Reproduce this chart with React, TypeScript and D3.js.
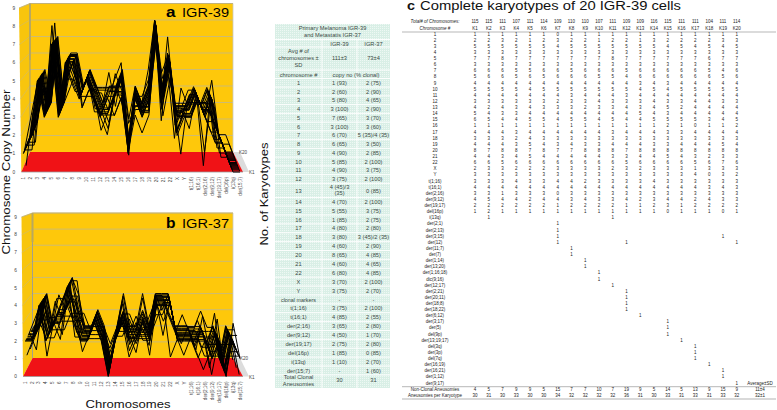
import React from "react";
import * as d3 from "d3";

const chromosomes = ["1","2","3","4","5","6","7","8","9","10","11","12","13","14","15","16","17","18","19","20","21","22","X","Y","t(1;16)","t(16;1)","der(2;16)","der(9;12)","der(19;17)","del(16p)","i(13q)","der(15;7)"];
const karyotypes = ["K1","K2","K3","K4","K5","K6","K7","K8","K9","K10","K11","K12","K13","K14","K15","K16","K17","K18","K19","K20"];
const yTicks = [0,1,2,3,4,5,6,7,8,9];

const igr39Rows: number[][] = [
[1,1,1,1,1,1,0,1,1,1,1,1,1,1,1,1,1,1,1,1],
[2,2,3,2,1,2,3,2,2,1,2,2,1,3,2,2,2,2,3,3],
[5,5,5,5,5,5,4,5,5,5,5,5,5,5,4,5,4,5,4,5],
[3,3,3,3,3,3,3,3,3,3,3,3,3,3,3,3,3,3,3,3],
[7,7,8,7,7,7,7,7,7,7,8,7,7,7,7,7,7,6,7,7],
[3,3,3,3,3,3,3,3,3,3,3,3,3,3,3,3,3,3,3,3],
[6,6,6,5,5,6,6,5,6,6,6,5,6,6,6,6,6,5,4,6],
[5,6,6,5,6,5,6,6,6,5,5,4,6,6,6,6,6,6,5,6],
[4,4,4,4,4,4,4,4,4,4,4,4,3,4,3,4,4,4,4,4],
[5,5,5,5,4,5,5,5,5,5,5,5,4,5,4,5,5,5,5,5],
[4,4,4,4,4,4,4,3,4,4,4,3,4,4,4,4,4,4,4,4],
[3,3,3,3,3,3,2,3,3,4,3,3,3,4,3,3,4,4,3,3],
[4,2,4,3,4,3,3,3,2,3,3,4,3,4,5,2,4,4,4,4],
[5,4,3,3,4,4,4,4,4,4,4,4,5,4,3,4,4,4,4,4],
[6,5,4,4,5,5,4,5,5,4,5,4,4,5,5,5,5,3,4,5],
[1,1,1,1,1,1,1,1,1,1,1,1,1,1,2,1,0,1,1,2],
[4,4,4,3,4,4,4,4,4,4,3,4,4,4,3,3,4,4,4,4],
[3,3,3,2,4,3,3,3,3,3,3,3,3,3,3,3,3,3,3,3],
[4,4,4,3,5,4,3,4,3,3,4,4,4,3,3,4,4,4,5,4],
[8,7,8,8,7,8,7,7,8,8,8,7,8,8,8,8,8,8,8,8],
[4,4,3,4,5,4,4,4,4,4,3,3,4,4,5,4,3,2,3,3],
[6,6,5,6,6,6,6,6,6,6,6,5,6,6,6,6,5,6,7,6],
[2,3,3,2,2,2,3,3,3,3,2,3,2,3,3,3,1,3,3,3],
[3,3,3,3,3,3,3,3,3,3,3,3,3,3,3,3,4,0,3,2],
[3,3,3,4,3,3,4,4,2,3,3,3,3,4,3,3,3,3,3,3],
[4,4,4,4,4,4,4,4,4,4,4,4,4,4,4,4,4,3,4,3],
[3,3,1,3,3,3,0,3,3,3,3,3,3,3,3,3,3,3,3,3],
[4,5,4,4,2,4,4,3,4,3,3,4,2,3,4,4,2,4,3,3],
[2,2,2,2,2,2,1,2,2,2,2,1,1,2,3,1,2,2,2,2],
[1,2,1,1,1,1,1,1,1,1,1,1,1,1,0,1,1,1,0,1],
[0,1,0,0,0,0,0,0,0,0,1,0,0,0,0,0,0,0,0,0],
[0,0,0,0,0,0,0,0,0,0,0,0,0,0,0,0,0,0,0,0],
];

// Each row: one chromosome, copy number in K1..K20 (IGR-37, estimated from panel b)
const igr37Rows: number[][] = [
[2,2,2,2,1,2,2,2,2,2,2,1,2,2,2,2,2,2,2,2],
[2,2,2,2,2,2,2,3,2,2,1,2,2,2,2,2,2,2,2,2],
[4,4,3,4,4,4,3,4,4,3,4,4,4,3,4,4,3,4,4,4],
[2,2,2,1,2,2,2,2,3,2,2,2,2,2,2,2,2,2,2,2],
[3,3,3,3,2,3,3,4,3,3,3,4,3,3,2,3,3,4,3,3],
[3,3,2,3,3,4,3,3,2,3,3,4,3,3,2,3,4,3,4,3],
[5,4,5,3,4,5,4,5,5,4,3,5,4,5,3,4,5,4,5,5],
[3,3,4,3,3,2,4,3,3,4,3,2,3,5,3,4,3,3,4,3],
[2,2,2,2,3,2,2,2,1,2,2,2,2,2,3,2,2,2,2,2],
[2,2,2,2,2,2,2,2,2,2,2,2,2,2,2,2,2,2,2,2],
[3,3,3,2,3,3,3,3,2,3,3,3,3,2,3,3,3,3,2,3],
[2,2,2,2,2,2,2,2,2,2,2,2,2,2,2,2,2,2,2,2],
[0,0,0,0,1,0,0,0,0,0,0,0,1,0,0,0,0,1,0,0],
[2,2,2,2,2,2,2,2,2,2,2,2,2,2,2,2,2,2,2,2],
[3,3,3,4,3,3,2,3,4,3,3,3,2,3,3,4,3,3,2,4],
[2,2,1,2,2,2,3,2,2,1,2,2,2,3,2,2,1,2,2,2],
[2,3,2,2,2,2,2,1,2,2,3,2,2,2,2,2,2,1,2,2],
[3,2,3,2,3,3,2,3,2,3,2,2,4,3,2,2,3,2,3,4],
[2,2,2,2,1,2,2,2,2,2,3,2,2,2,2,1,2,2,2,2],
[4,4,4,4,4,3,4,4,4,4,4,4,3,4,4,4,4,4,4,4],
[4,4,4,3,4,4,4,2,4,4,4,4,3,4,4,4,4,4,3,4],
[4,4,1,4,4,4,3,4,4,4,4,3,4,4,4,4,3,4,4,4],
[2,2,2,2,2,2,2,2,2,2,2,2,2,2,2,2,2,2,2,2],
[2,2,2,2,1,2,2,2,2,2,2,2,3,2,2,2,2,1,2,2],
[2,2,2,2,2,2,2,2,2,2,2,2,2,2,2,2,2,2,2,2],
[2,1,2,2,3,2,2,1,2,2,1,2,2,2,1,2,1,2,2,1],
[2,2,2,1,2,2,2,0,2,2,3,2,2,1,2,2,2,3,2,2],
[1,1,0,1,1,2,1,1,1,0,1,1,2,1,1,1,1,2,1,1],
[2,2,2,1,2,2,3,2,1,2,2,2,2,2,3,2,1,2,2,2],
[0,0,0,1,0,0,0,0,0,1,0,0,0,0,0,0,1,0,0,0],
[3,2,2,1,2,2,2,2,1,2,2,2,2,2,2,2,1,2,2,2],
[1,1,0,1,1,1,1,2,1,0,1,1,1,1,2,1,1,0,1,1],
];

// Table c
const tableTotals = [115,115,111,107,111,114,109,110,110,107,111,109,109,116,115,111,111,104,111,114];
const nonClonal = [4,5,7,9,9,5,15,7,7,10,7,19,9,5,14,5,13,9,15,9];
const perKaryotype = [30,31,30,33,30,30,34,32,32,32,32,36,31,30,33,31,33,31,33,32];
const markerRows: [string, number[]][] = [
["der(2;1)",[7]],["der(2;13)",[7]],["der(3;15)",[7,19]],["der(12)",[7,12,20]],["der(11;7)",[8]],["der(7)",[8]],["der(1;14)",[9]],["der(13;20)",[9]],
["der(1;16;18)",[10]],["dic(9;16)",[10]],["der(12;17)",[11]],["der(2;21)",[12]],["der(20;11)",[12]],["der(18;8)",[12]],["der(18;22)",[12]],["der(6;12)",[13]],
["der(3;17)",[15]],["der(5)",[15]],["del(9p)",[15]],["der(13;19;17)",[16]],["del(3q)",[17]],["der(3p)",[17]],["del(7q)",[17]],["der(16;19)",[18]],["der(16;21)",[19]],["der(1;12)",[19]],["der(9;17)",[20]],
];

// Middle table
const midHead = ["IGR-39","IGR-37"];
const midChrom = ["1","2","3","4","5","6","7","8","9","10","11","12"];
const midIgr39 = ["1 (93)","2 (60)","5 (80)","3 (100)","7 (65)","3 (100)","6 (70)","6 (65)","4 (90)","5 (85)","4 (90)","3 (75)"];
const midIgr37 = ["2 (75)","2 (90)","4 (65)","2 (90)","3 (70)","3 (60)","5 (35)/4 (35)","3 (50)","2 (85)","2 (100)","3 (75)","2 (100)"];
const midChromB = ["14","15","16","17","18","19","20","21","22","X","Y","clonal markers","t(1;16)","t(16;1)","der(2;16)","der(9;12)","der(19;17)","del(16p)","i(13q)","der(15;7)"];
const midIgr39B = ["4 (70)","5 (55)","1 (85)","4 (80)","3 (80)","4 (60)","8 (65)","4 (60)","6 (80)","3 (70)","3 (75)","-","3 (75)","4 (85)","3 (65)","4 (50)","2 (75)","1 (85)","1 (10)","-"];
const midIgr37B = ["2 (100)","3 (75)","2 (75)","2 (80)","3 (45)/2 (35)","2 (90)","4 (85)","4 (65)","4 (85)","2 (100)","2 (70)","-","2 (100)","2 (55)","2 (80)","1 (70)","2 (80)","0 (85)","2 (70)","1 (60)"];

const FONT = "'Liberation Sans', Arial, sans-serif";
const YELLOW = "#fec80b";
const WALL = "#f8c50d";
const RED = "#f01216";
const GRID = "#cdbb72";

type Geo = { fx0:number; fx1:number; bx0:number; bx1:number; fy0:number; fy9:number; by0:number; by9:number; wallX:number; barEnd:number; topL:number; k20x:number; k1x:number };

function Panel({ rows, g, letter, name, titleY }: { rows:number[][]; g:Geo; letter:string; name:string; titleY:number }) {
  const front = d3.scalePoint<string>().domain(chromosomes).range([g.fx0,g.fx1]);
  const back = d3.scalePoint<string>().domain(chromosomes).range([g.bx0,g.bx1]);
  const yF = d3.scaleLinear().domain([0,9]).range([g.fy0,g.fy9]);
  const yB = d3.scaleLinear().domain([0,9]).range([g.by0,g.by9]);
  const depth = d3.scaleLinear().domain([0,karyotypes.length-1]).range([0,1]);
  const line = d3.line<[number,number]>().x(d=>d[0]).y(d=>d[1]).curve(d3.curveLinear);
  const series = karyotypes.map((_,k)=>{
    const t = depth(k);
    return chromosomes.map((c,i)=>[
      (front(c) as number)*(1-t)+(back(c) as number)*t,
      yF(rows[i][k])*(1-t)+yB(rows[i][k])*t,
    ] as [number,number]);
  });
  return (
    <g>
      <polygon points={`${g.wallX},${g.by9} ${g.bx1+1},${g.by9} ${g.bx1+1},${g.by0} ${g.wallX},${g.by0}`} fill={YELLOW}/>
      <polygon points={`${g.topL},${g.fy9} ${g.wallX},${g.by9} ${g.wallX},${g.by0} ${g.fx0-2},${g.fy0}`} fill={WALL}/>
      <polygon points={`${g.bx1+1},${g.by0} ${g.fx1+3},${g.fy0} ${g.fx1+9},${g.fy0} ${g.bx1+8},${g.by0}`} fill="#dcdcdc"/>
      <polygon points={`${g.wallX},${g.by0} ${g.bx1+1},${g.by0} ${g.fx1+3},${g.fy0} ${g.fx0-2},${g.fy0}`} fill={RED}/>
      {yTicks.slice(1).map(v=>(
        <g key={v}>
          <line x1={g.wallX} x2={g.bx1+1} y1={yB(v)} y2={yB(v)} stroke={GRID} strokeWidth={1}/>
          <line x1={g.topL+(g.fx0-2-g.topL)*(1-v/9)} x2={g.wallX} y1={yF(v)} y2={yB(v)} stroke={GRID} strokeWidth={0.6}/>
        </g>
      ))}
      <line x1={g.bx1+1} x2={g.bx1+1} y1={g.by9} y2={g.by0} stroke="#c8c8c0" strokeWidth={0.8}/>
      <line x1={g.wallX} x2={g.bx1+1} y1={g.by9} y2={g.by9} stroke="#b9ad7c" strokeWidth={0.6}/>
      <line x1={g.topL} x2={g.wallX} y1={g.fy9} y2={g.by9} stroke="#b9ad7c" strokeWidth={0.6}/>
      <line x1={g.wallX} x2={g.wallX} y1={g.by9} y2={g.barEnd} stroke="#b8a860" strokeWidth={2}/>
      <line x1={g.wallX} x2={g.wallX} y1={g.barEnd} y2={g.by0} stroke="#7c8aa8" strokeWidth={0.7}/>
      <line x1={g.fx0-2} x2={g.fx1+3} y1={g.fy0} y2={g.fy0} stroke="#9a9a9a" strokeWidth={0.8}/>
      {series.map((s,k)=>(
        <path key={k} d={line(s) as string} fill="none" stroke="#000" strokeWidth={1}/>
      ))}
      {yTicks.map(v=>(
        <text key={v} x={g.fx0-9.5} y={yF(v)+1.7} fontSize={4.8} fill="#444" textAnchor="middle" fontFamily={FONT}>{v}</text>
      ))}
      {chromosomes.map(c=>(
        <text key={c} transform={`translate(${(front(c) as number)+1.6},${g.fy0+5}) rotate(-90)`} fontSize={4.6} fill="#444" textAnchor="end" fontFamily={FONT}>{c}</text>
      ))}
      <text x={g.k20x} y={g.by0+2} fontSize={4.6} fill="#444" fontFamily={FONT}>K20</text>
      <text x={g.k1x} y={g.fy0+2} fontSize={4.6} fill="#444" fontFamily={FONT}>K1</text>
      <text x={166} y={titleY} fontSize={15} fontWeight="bold" fontFamily={FONT} textLength={9.5} lengthAdjust="spacingAndGlyphs">{letter}</text>
      <text x={182} y={titleY} fontSize={12.5} fontFamily={FONT} textLength={47} lengthAdjust="spacingAndGlyphs">{name}</text>
    </g>
  );
}

function MidTable() {
  const X0=275, X1=390, C1=322, C2=357;
  const cx=[(X0+C1)/2,(C1+C2)/2,(C2+X1)/2];
  const top = d3.scaleLinear().domain([0,11]).range([82.7,179]);
  const bot = d3.scaleLinear().domain([0,19]).range([201.7,370.5]);
  const rowLines = [39.5,47,70,78.5,
    ...midChrom.map((_,i)=>top(i)+4.4),
    197.5,
    ...midChromB.map((_,i)=>bot(i)+4.4)];
  const T=(p:{x:number;y:number;s:string;fs?:number})=><text x={p.x} y={p.y+2.1} fontSize={p.fs??5.7} fill="#3a4a44" textAnchor="middle" fontFamily={FONT}>{p.s}</text>;
  return (
    <g>
      <defs>
        <pattern id="dots" width={2} height={2} patternUnits="userSpaceOnUse">
          <rect width={2} height={2} fill="#d9efe6"/>
          <rect width={1} height={1} fill="#eef8f4"/>
        </pattern>
      </defs>
      <rect x={X0} y={24} width={X1-X0} height={364} fill="url(#dots)"/>
      {rowLines.map((y,i)=><line key={i} x1={X0} x2={X1} y1={y} y2={y} stroke="#fff" strokeWidth={0.9}/>)}
      <line x1={C1} x2={C1} y1={40} y2={388} stroke="#fff" strokeWidth={0.9}/>
      <line x1={C2} x2={C2} y1={40} y2={388} stroke="#fff" strokeWidth={0.9}/>
      <T x={(X0+X1)/2} y={28} s="Primary Melanoma IGR-39"/>
      <T x={(X0+X1)/2} y={34.5} s="and Metastatis IGR-37"/>
      {midHead.map((h,i)=><T key={h} x={cx[i+1]} y={43.5} s={h}/>)}
      <T x={cx[0]} y={51} s="Avg # of"/>
      <T x={cx[0]} y={58} s="chromosomes ±"/>
      <T x={cx[0]} y={65} s="SD"/>
      <T x={cx[1]} y={58} s="111±3"/>
      <T x={cx[2]} y={58} s="73±4"/>
      <T x={cx[0]} y={74.5} s="chromosome #"/>
      <T x={(C1+X1)/2} y={74.5} s="copy no (% clonal)"/>
      {midChrom.map((c,i)=><g key={c}>
        <T x={cx[0]} y={top(i)} s={c}/><T x={cx[1]} y={top(i)} s={midIgr39[i]}/><T x={cx[2]} y={top(i)} s={midIgr37[i]}/>
      </g>)}
      <T x={cx[0]} y={190.5} s="13"/>
      <T x={cx[1]} y={187} s="4 (45)/3"/>
      <T x={cx[1]} y={193} s="(35)"/>
      <T x={cx[2]} y={190.5} s="0 (85)"/>
      {midChromB.map((c,i)=><g key={c}>
        <T x={cx[0]} y={bot(i)} s={c} fs={c==="clonal markers"?5.4:5.7}/><T x={cx[1]} y={bot(i)} s={midIgr39B[i]}/><T x={cx[2]} y={bot(i)} s={midIgr37B[i]}/>
      </g>)}
      <T x={cx[0]} y={377} s="Total Clonal"/>
      <T x={cx[0]} y={383.5} s="Aneusomies"/>
      <T x={cx[1]} y={380} s="30"/>
      <T x={cx[2]} y={380} s="31"/>
    </g>
  );
}

function KaryoTable() {
  const col = d3.scaleLinear().domain([0,19]).range([475,736.7]);
  const row = d3.scaleLinear().domain([0,57]).range([34,383]);
  const labelX = 435;
  const fs = 4.5;
  const S=(p:{x:number;y:number;s:any;a?:string;st?:string})=><text x={p.x} y={p.y+1.6} fontSize={fs} fill="#222" textAnchor={p.a??"middle"} fontStyle={p.st} fontFamily={FONT}>{p.s}</text>;
  return (
    <g>
      <text x={407} y={9.6} fontFamily={FONT} fontSize={12} fontWeight="bold" fill="#111" textLength={8} lengthAdjust="spacingAndGlyphs">c</text>
      <text x={420} y={9.6} fontFamily={FONT} fontSize={12} fill="#111" textLength={261} lengthAdjust="spacingAndGlyphs">Complete karyotypes of 20 IGR-39 cells</text>
      <S x={435} y={21.5} s="Total# of Chromosomes:" st="italic"/>
      <S x={435} y={28} s="Chromosome #" st="italic"/>
      {tableTotals.map((v,i)=><S key={i} x={col(i)} y={21.5} s={v}/>)}
      {karyotypes.map((k,i)=><S key={k} x={col(i)} y={28} s={k}/>)}
      <line x1={402} x2={776} y1={32} y2={32} stroke="#999" strokeWidth={0.7}/>
      {chromosomes.slice(0,30).map((c,i)=><g key={c}>
        <S x={labelX} y={row(i)} s={c}/>
        {igr39Rows[i].map((v,k)=><S key={k} x={col(k)} y={row(i)} s={v}/>)}
      </g>)}
      <S x={labelX} y={row(30)} s="i(13q)"/>
      <S x={col(1)} y={row(30)} s={1}/>
      <S x={col(10)} y={row(30)} s={1}/>
      {markerRows.map(([name,ks],i)=><g key={name}>
        <S x={labelX} y={row(31+i)} s={name}/>
        {ks.map(k=><S key={k} x={col(k-1)} y={row(31+i)} s={1}/>)}
      </g>)}
      <S x={760} y={383} s="Average±SD"/>
      <line x1={402} x2={776} y1={386.7} y2={386.7} stroke="#999" strokeWidth={0.7}/>
      <S x={435} y={389.5} s="Non-Clonal Aneusomies"/>
      <S x={435} y={395.5} s="Aneusomies per Karyotype"/>
      {nonClonal.map((v,i)=><S key={i} x={col(i)} y={389.5} s={v}/>)}
      {perKaryotype.map((v,i)=><S key={i} x={col(i)} y={395.5} s={v}/>)}
      <S x={760} y={389.5} s="11±4"/>
      <S x={760} y={395.5} s="32±1"/>
      <line x1={402} x2={776} y1={399} y2={399} stroke="#aaa" strokeWidth={0.9}/>
    </g>
  );
}

const geoA: Geo = { fx0:23.3, fx1:240, bx0:32, bx1:232, fy0:172, fy9:8, by0:152, by9:3.5, wallX:30, barEnd:60, topL:19, k20x:239, k1x:249 };
const geoB: Geo = { fx0:25, fx1:240, bx0:34, bx1:232, fy0:376.5, fy9:217, by0:358, by9:213, wallX:32.5, barEnd:242, topL:21.5, k20x:240, k1x:249 };

export default function App() {
  return (
    <svg width={777} height={410} viewBox="0 0 777 410" style={{position:"absolute",left:0,top:0,background:"#fff"}}>
      <Panel rows={igr39Rows} g={geoA} letter="a" name="IGR-39" titleY={17}/>
      <Panel rows={igr37Rows} g={geoB} letter="b" name="IGR-37" titleY={228}/>
      <text transform="translate(9.5,172) rotate(-90)" textAnchor="middle" fontSize={11.5} fontFamily={FONT} fill="#111" textLength={165} lengthAdjust="spacingAndGlyphs">Chromosome Copy Number</text>
      <text x={128} y={408} textAnchor="middle" fontSize={11.5} fontFamily={FONT} fill="#111" textLength={85} lengthAdjust="spacingAndGlyphs">Chromosomes</text>
      <text transform="translate(268,194) rotate(-90)" textAnchor="middle" fontSize={11.5} fontFamily={FONT} fill="#111" textLength={103} lengthAdjust="spacingAndGlyphs">No. of Karyotypes</text>
      <MidTable/>
      <KaryoTable/>
    </svg>
  );
}
